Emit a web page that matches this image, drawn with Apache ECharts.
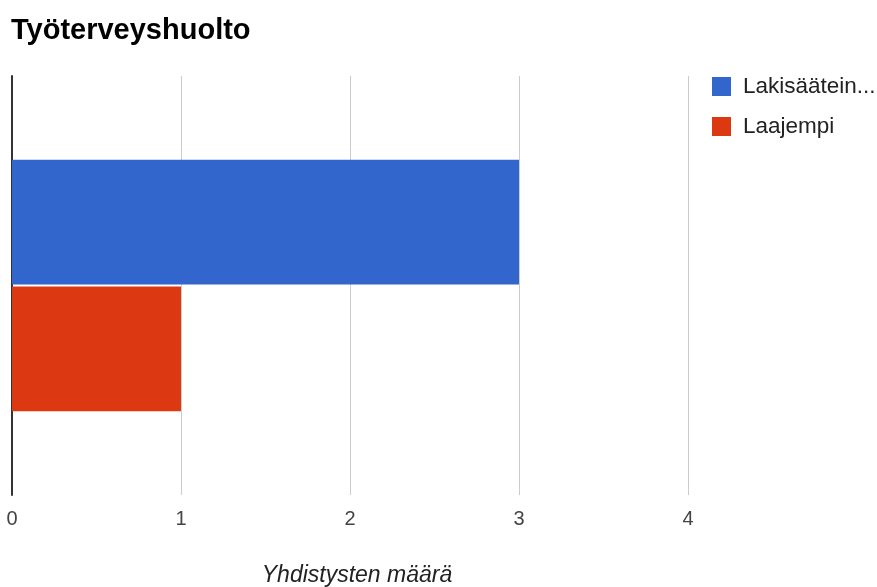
<!DOCTYPE html>
<html>
<head>
<meta charset="utf-8">
<script src="https://cdn.jsdelivr.net/npm/echarts@6/dist/echarts.min.js"></script>
<style>
  html, body { margin: 0; padding: 0; background: #fff; }
  #chart { width: 877px; height: 587px; }
</style>
</head>
<body>
<div id="chart"></div>
<script>
// Chart data
const categories = ['Työterveyshuolto'];
const seriesNames = ['Lakisääteinen', 'Laajempi'];
const lakisaateinenValues = [3];
const laajempiValues = [1];
const xTickValues = [0, 1, 2, 3, 4];

const colors = ['#3366cc', '#dc3912'];
const fontFamily = '"Liberation Sans", Arial, sans-serif';
const legendFontSize = 22.5;
const legendMaxWidth = 138;

// Shorten a legend name with "..." when it is wider than the space beside the plot
function fitLegendName(name) {
  const ctx = document.createElement('canvas').getContext('2d');
  ctx.font = legendFontSize + 'px ' + fontFamily;
  if (ctx.measureText(name).width <= legendMaxWidth) return name;
  let cut = name;
  while (cut.length > 1 && ctx.measureText(cut + '...').width > legendMaxWidth) {
    cut = cut.slice(0, -1);
  }
  return cut + '...';
}

const chart = echarts.init(document.getElementById('chart'), null, { renderer: 'canvas' });

chart.setOption({
  animation: false,
  color: colors,
  textStyle: { fontFamily: fontFamily },
  title: {
    text: 'Työterveyshuolto',
    left: 6,
    top: 11,
    textStyle: { fontSize: 29, fontWeight: 'bold', color: '#000', fontFamily: fontFamily }
  },
  legend: {
    orient: 'vertical',
    left: 712,
    top: 75,
    padding: 0,
    icon: 'rect',
    itemWidth: 19,
    itemHeight: 19,
    itemGap: 17,
    data: seriesNames,
    formatter: fitLegendName,
    textStyle: {
      fontSize: legendFontSize,
      lineHeight: 22,
      color: '#222',
      fontFamily: fontFamily,
      padding: [0, 0, 0, 7]
    }
  },
  grid: {
    left: 12,
    right: 189,
    top: 76,
    bottom: 92,
    containLabel: false,
    outerBoundsMode: 'none'
  },
  xAxis: {
    type: 'value',
    min: xTickValues[0],
    max: xTickValues[xTickValues.length - 1],
    interval: 1,
    name: 'Yhdistysten määrä',
    nameLocation: 'middle',
    nameGap: 69,
    nameTextStyle: {
      fontSize: 23,
      fontStyle: 'italic',
      color: '#222',
      fontFamily: fontFamily,
      padding: [0, 0, 0, 14]
    },
    axisLine: { show: false },
    axisTick: { show: false },
    axisLabel: { fontSize: 20, color: '#444', margin: 14, fontFamily: fontFamily },
    splitLine: { show: true, lineStyle: { color: '#cccccc', width: 1 } }
  },
  yAxis: {
    type: 'category',
    inverse: true,
    data: categories,
    axisLine: { show: true, lineStyle: { color: '#333', width: 2 } },
    axisTick: { show: false },
    axisLabel: { show: false },
    splitLine: { show: false }
  },
  series: [
    {
      name: seriesNames[0],
      type: 'bar',
      data: lakisaateinenValues,
      barCategoryGap: '40%',
      barGap: '1.6%',
      itemStyle: { color: colors[0] }
    },
    {
      name: seriesNames[1],
      type: 'bar',
      data: laajempiValues,
      barCategoryGap: '40%',
      barGap: '1.6%',
      itemStyle: { color: colors[1] }
    }
  ]
});
</script>
</body>
</html>
